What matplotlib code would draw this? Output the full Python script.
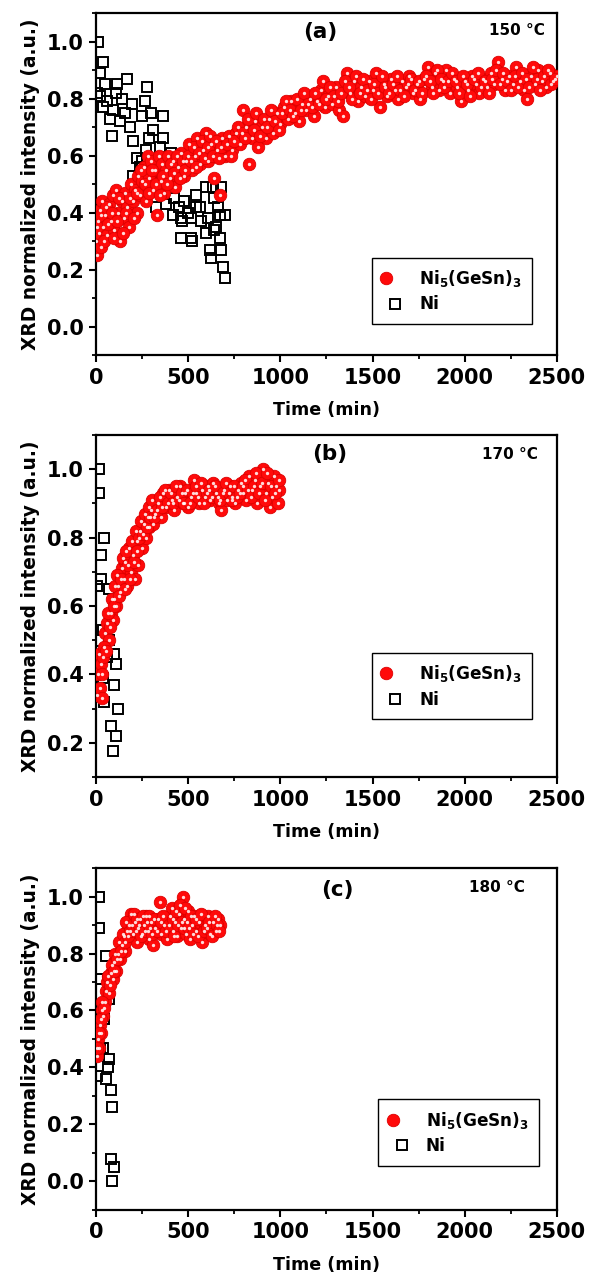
import matplotlib
matplotlib.use("Agg")
import matplotlib.pyplot as plt
from matplotlib.lines import Line2D
from matplotlib.legend_handler import HandlerTuple
from matplotlib.ticker import MultipleLocator

plt.rcParams['font.family'] = ['DejaVu Sans']
plt.rcParams['font.weight'] = 'bold'
plt.rcParams['mathtext.fontset'] = 'custom'
plt.rcParams['mathtext.rm'] = 'DejaVu Sans:bold'
plt.rcParams['mathtext.it'] = 'DejaVu Sans:bold'
plt.rcParams['mathtext.bf'] = 'DejaVu Sans:bold'
plt.rcParams['mathtext.default'] = 'rm'

# ---- panel (a), 150 C ----
a_red_t = [0, 5, 10, 15, 20, 25, 35, 40, 50, 60, 70, 80, 90, 100, 110, 120, 130, 140, 150, 160,
           170, 180, 190, 200, 210, 220, 230, 240, 250, 260, 270, 280, 290, 300, 310, 320, 330, 340, 350, 360,
           370, 380, 390, 400, 415, 430, 445, 460, 475, 490, 505, 520, 535, 550, 565, 580, 595, 610, 625, 640,
           655, 670, 685, 700, 720, 740, 760, 780, 800, 815, 830, 845, 860, 880, 900, 920, 940, 960, 980, 1000,
           1020, 1040, 1060, 1080, 1100, 1120, 1140, 1160, 1180, 1200, 1220, 1240, 1260, 1280, 1300, 1320, 1340, 1360, 1380, 1400,
           1420, 1440, 1460, 1480, 1500, 1520, 1540, 1560, 1580, 1600, 1620, 1640, 1660, 1680, 1700, 1720, 1740, 1760, 1780, 1800,
           1820, 1840, 1860, 1880, 1900, 1920, 1940, 1960, 1980, 2000, 2020, 2040, 2060, 2080, 2100, 2120, 2140, 2160, 2180, 2200,
           2220, 2240, 2260, 2280, 2300, 2320, 2340, 2360, 2380, 2400, 2420, 2440, 2460, 2480, 2500,
           8, 28, 45, 55, 65, 85, 95, 115, 125, 145, 165, 185, 205, 225, 245, 265, 285, 305, 325, 345,
           365, 385, 405, 425, 440, 455, 470, 485, 500, 515, 530, 545, 560, 575, 590, 605, 620, 635, 650, 665,
           680, 710, 730, 750, 770, 790, 810, 825, 855, 870, 890, 910, 930, 950, 970, 990, 1010, 1030, 1050, 1070,
           1090, 1110, 1130, 1150, 1170, 1190, 1210, 1230, 1250, 1270, 1290, 1310, 1330, 1350, 1370, 1390, 1410, 1430, 1450, 1470,
           1490, 1510, 1530, 1550, 1570, 1590, 1610, 1630, 1650, 1670, 1690, 1710, 1730, 1750, 1770, 1790, 1810, 1830, 1850, 1870,
           1890, 1910, 1930, 1950, 1970, 1990, 2010, 2030, 2050, 2070, 2090, 2110, 2130, 2150, 2170, 2190, 2210, 2230, 2250, 2270,
           2290, 2310, 2330, 2350, 2370, 2390, 2410, 2430, 2450, 2470, 2490]
a_red_v = [0.30, 0.25, 0.37, 0.33, 0.41, 0.28, 0.44, 0.35, 0.39, 0.32, 0.43, 0.37, 0.46, 0.34, 0.48, 0.40, 0.30, 0.44, 0.38, 0.47,
           0.42, 0.35, 0.50, 0.44, 0.48, 0.40, 0.53, 0.46, 0.51, 0.56, 0.44, 0.60, 0.52, 0.58, 0.48, 0.55, 0.39, 0.60, 0.51, 0.57,
           0.47, 0.55, 0.60, 0.52, 0.58, 0.49, 0.56, 0.61, 0.53, 0.58, 0.64, 0.55, 0.60, 0.66, 0.57, 0.62, 0.68, 0.58, 0.64, 0.52,
           0.62, 0.46, 0.66, 0.60, 0.67, 0.62, 0.68, 0.64, 0.76, 0.70, 0.57, 0.66, 0.72, 0.63, 0.70, 0.66, 0.73, 0.68, 0.75, 0.71,
           0.77, 0.73, 0.79, 0.75, 0.72, 0.78, 0.76, 0.80, 0.74, 0.79, 0.83, 0.77, 0.81, 0.78, 0.84, 0.76, 0.74, 0.89, 0.82, 0.86,
           0.79, 0.84, 0.81, 0.86, 0.83, 0.89, 0.77, 0.85, 0.81, 0.87, 0.83, 0.80, 0.86, 0.84, 0.88, 0.82, 0.85, 0.80, 0.87, 0.91,
           0.84, 0.89, 0.83, 0.86, 0.90, 0.82, 0.87, 0.84, 0.79, 0.86, 0.83, 0.88, 0.85, 0.82, 0.87, 0.84, 0.89, 0.85, 0.93, 0.87,
           0.83, 0.88, 0.85, 0.91, 0.86, 0.83, 0.80, 0.88, 0.85, 0.90, 0.86, 0.84, 0.89, 0.86, 0.88,
           0.35, 0.39, 0.30, 0.42, 0.36, 0.40, 0.31, 0.37, 0.45, 0.33, 0.40, 0.45, 0.38, 0.47, 0.55, 0.50, 0.47, 0.55, 0.50, 0.46,
           0.53, 0.50, 0.57, 0.54, 0.60, 0.52, 0.58, 0.55, 0.60, 0.58, 0.63, 0.56, 0.61, 0.65, 0.59, 0.63, 0.67, 0.60, 0.65, 0.59,
           0.63, 0.64, 0.60, 0.65, 0.70, 0.68, 0.66, 0.73, 0.69, 0.75, 0.67, 0.73, 0.70, 0.76, 0.72, 0.69, 0.75, 0.79, 0.76, 0.74,
           0.80, 0.76, 0.82, 0.78, 0.77, 0.82, 0.78, 0.86, 0.80, 0.84, 0.81, 0.79, 0.82, 0.86, 0.84, 0.80, 0.88, 0.82, 0.87, 0.83,
           0.80, 0.85, 0.82, 0.88, 0.84, 0.82, 0.85, 0.88, 0.83, 0.81, 0.85, 0.87, 0.83, 0.86, 0.82, 0.88, 0.86, 0.82, 0.90, 0.87,
           0.84, 0.86, 0.89, 0.86, 0.82, 0.88, 0.85, 0.81, 0.87, 0.89, 0.84, 0.86, 0.82, 0.87, 0.90, 0.85, 0.89, 0.86, 0.83, 0.88,
           0.84, 0.89, 0.87, 0.84, 0.91, 0.87, 0.83, 0.88, 0.90, 0.85, 0.87]
a_ni_t = [12, 36, 20, 49, 5, 20, 58, 94, 76, 40, 85, 112, 166, 108, 139, 157, 193, 130, 184, 202,
          220, 238, 274, 265, 247, 301, 285, 310, 270, 364, 364, 346, 328, 328, 382, 405, 418, 422, 418, 450,
          463, 468, 463, 517, 517, 522, 540, 544, 562, 571, 595, 598, 610, 616, 625, 634, 640, 640, 652, 660,
          670, 670, 679, 679, 688, 697, 700, 200, 250, 300, 350, 390, 480, 500]
a_ni_v = [1.00, 0.93, 0.89, 0.85, 0.82, 0.81, 0.79, 0.76, 0.73, 0.77, 0.67, 0.85, 0.87, 0.82, 0.80, 0.75, 0.78, 0.72, 0.70, 0.65,
          0.59, 0.56, 0.84, 0.79, 0.74, 0.75, 0.66, 0.69, 0.62, 0.74, 0.66, 0.63, 0.49, 0.42, 0.43, 0.61, 0.59, 0.45, 0.39, 0.42,
          0.38, 0.37, 0.31, 0.38, 0.31, 0.30, 0.42, 0.46, 0.42, 0.37, 0.49, 0.33, 0.38, 0.27, 0.24, 0.49, 0.45, 0.34, 0.35, 0.42,
          0.39, 0.31, 0.49, 0.27, 0.21, 0.17, 0.39, 0.53, 0.58, 0.55, 0.52, 0.50, 0.44, 0.40]

# ---- panel (b), 170 C ----
b_red_t = [5, 10, 15, 20, 25, 30, 40, 50, 60, 70, 80, 90, 100, 110, 120, 130, 140, 150, 160, 170,
           180, 190, 200, 210, 220, 230, 240, 250, 260, 270, 280, 290, 300, 310, 320, 335, 350, 365, 380, 395,
           410, 425, 440, 455, 470, 485, 500, 515, 530, 545, 560, 575, 590, 605, 620, 635, 650, 665, 680, 695,
           710, 725, 740, 755, 770, 785, 800, 815, 830, 845, 860, 875, 890, 905, 920, 935, 945, 955, 965, 975,
           985, 995,
           35, 45, 55, 65, 75, 85, 95, 105, 115, 125, 135, 145, 155, 165, 175, 185, 195, 205, 215, 225,
           235, 245, 255, 265, 275, 285, 295, 305, 315, 330, 345, 360, 375, 390, 405, 420, 435, 450, 465, 480,
           495, 510, 525, 540, 555, 570, 585, 600, 615, 630, 645, 660, 675, 690, 705, 720, 735, 750, 765, 780,
           795, 810, 825, 840, 855, 870, 885, 900, 915, 930, 950, 970, 990]
b_red_v = [0.34, 0.40, 0.46, 0.36, 0.43, 0.33, 0.45, 0.52, 0.55, 0.50, 0.58, 0.56, 0.62, 0.60, 0.66, 0.64, 0.71, 0.68, 0.73, 0.66,
           0.77, 0.70, 0.75, 0.68, 0.79, 0.72, 0.82, 0.77, 0.84, 0.80, 0.86, 0.83, 0.88, 0.84, 0.87, 0.90, 0.86, 0.93, 0.89, 0.94,
           0.91, 0.88, 0.92, 0.95, 0.90, 0.93, 0.89, 0.92, 0.97, 0.93, 0.90, 0.94, 0.92, 0.95, 0.91, 0.96, 0.93, 0.90, 0.88, 0.94,
           0.91, 0.95, 0.92, 0.90, 0.94, 0.96, 0.93, 0.91, 0.98, 0.94, 0.97, 0.90, 0.95, 1.00, 0.93, 0.96, 0.89, 0.92, 0.98, 0.95,
           0.90, 0.94,
           0.40, 0.48, 0.47, 0.58, 0.54, 0.62, 0.60, 0.66, 0.69, 0.63, 0.68, 0.74, 0.65, 0.76, 0.72, 0.68, 0.79, 0.73, 0.82, 0.76,
           0.80, 0.85, 0.81, 0.87, 0.83, 0.89, 0.86, 0.91, 0.86, 0.88, 0.92, 0.89, 0.94, 0.90, 0.93, 0.90, 0.95, 0.91, 0.93, 0.90,
           0.94, 0.90, 0.93, 0.95, 0.92, 0.96, 0.90, 0.93, 0.94, 0.92, 0.95, 0.92, 0.91, 0.93, 0.96, 0.93, 0.91, 0.95, 0.92, 0.93,
           0.95, 0.97, 0.94, 0.92, 0.95, 0.99, 0.93, 0.96, 0.91, 0.99, 0.95, 0.93, 0.97]
b_ni_t = [18, 18, 45, 27, 27, 72, 36, 5, 72, 99, 108, 40, 99, 45, 117, 81, 108, 90, 15, 60]
b_ni_v = [1.00, 0.93, 0.80, 0.75, 0.68, 0.65, 0.53, 0.66, 0.50, 0.46, 0.43, 0.39, 0.37, 0.32, 0.30, 0.25, 0.22, 0.175, 0.47, 0.45]

# ---- panel (c), 180 C ----
c_red_t = [5, 10, 15, 20, 25, 30, 40, 50, 55, 60, 70, 80, 90, 100, 110, 120, 130, 140, 150, 160,
           170, 180, 190, 200, 210, 220, 230, 240, 250, 260, 270, 280, 290, 300, 310, 320, 335, 345, 355, 370,
           385, 400, 410, 420, 430, 440, 450, 460, 470, 480, 490, 500, 510, 520, 530, 545, 560, 575, 590, 605,
           620, 635, 650, 660, 670,
           8, 18, 28, 35, 45, 65, 75, 85, 95, 105, 115, 125, 135, 145, 155, 165, 175, 185, 195, 205,
           215, 225, 235, 245, 255, 265, 275, 285, 295, 305, 315, 330, 350, 365, 380, 395, 415, 425, 435, 445,
           455, 465, 475, 485, 495, 505, 515, 525, 540, 555, 570, 585, 600, 615, 630, 645, 655, 665]
c_red_v = [0.44, 0.50, 0.47, 0.55, 0.52, 0.60, 0.58, 0.63, 0.67, 0.70, 0.66, 0.73, 0.71, 0.77, 0.74, 0.80, 0.78, 0.83, 0.86, 0.81,
           0.88, 0.90, 0.94, 0.87, 0.91, 0.84, 0.89, 0.92, 0.87, 0.90, 0.93, 0.88, 0.85, 0.91, 0.83, 0.89, 0.92, 0.98, 0.87, 0.90,
           0.85, 0.93, 0.96, 0.88, 0.91, 0.86, 0.94, 0.89, 1.00, 0.92, 0.87, 0.95, 0.85, 0.90, 0.93, 0.88, 0.91, 0.84, 0.90, 0.93,
           0.87, 0.91, 0.88, 0.92, 0.90,
           0.47, 0.52, 0.57, 0.63, 0.61, 0.72, 0.69, 0.76, 0.74, 0.80, 0.78, 0.84, 0.81, 0.87, 0.84, 0.91, 0.86, 0.88, 0.90, 0.94,
           0.88, 0.92, 0.90, 0.86, 0.93, 0.88, 0.91, 0.93, 0.89, 0.87, 0.92, 0.88, 0.91, 0.93, 0.88, 0.90, 0.92, 0.86, 0.95, 0.90,
           0.97, 0.91, 0.89, 0.96, 0.91, 0.89, 0.93, 0.87, 0.92, 0.86, 0.94, 0.88, 0.89, 0.91, 0.86, 0.93, 0.90, 0.88]
c_ni_t = [16, 16, 53, 13, 71, 20, 44, 10, 20, 71, 63, 53, 5, 80, 89, 80, 98, 89, 30, 40]
c_ni_v = [1.00, 0.89, 0.79, 0.71, 0.64, 0.61, 0.57, 0.56, 0.47, 0.43, 0.40, 0.36, 0.37, 0.32, 0.26, 0.08, 0.05, 0.00, 0.61, 0.47]

panels = [
    dict(red_t=a_red_t, red_v=a_red_v, ni_t=a_ni_t, ni_v=a_ni_v, tag="(a)", temp="150 °C",
         ylim=(-0.1, 1.1), yticks=[0.0, 0.2, 0.4, 0.6, 0.8, 1.0], tagpos=(0.486, 0.944), temppos=(0.913, 0.95),
         legpos=(0.965, 0.067)),
    dict(red_t=b_red_t, red_v=b_red_v, ni_t=b_ni_t, ni_v=b_ni_v, tag="(b)", temp="170 °C",
         ylim=(0.1, 1.1), yticks=[0.2, 0.4, 0.6, 0.8, 1.0], tagpos=(0.506, 0.944), temppos=(0.898, 0.944),
         legpos=(0.965, 0.144)),
    dict(red_t=c_red_t, red_v=c_red_v, ni_t=c_ni_t, ni_v=c_ni_v, tag="(c)", temp="180 °C",
         ylim=(-0.1, 1.1), yticks=[0.0, 0.2, 0.4, 0.6, 0.8, 1.0], tagpos=(0.524, 0.936), temppos=(0.87, 0.944),
         legpos=(0.98, 0.105)),
]

fig = plt.figure(figsize=(5.94, 12.85), dpi=100)
bottoms = [0.7237, 0.3953, 0.0584]

red = '#ff0a0a'
for p, b in zip(panels, bottoms):
    ax = fig.add_axes([0.1616, b, 0.776, 0.2661])
    ax.plot(p['ni_t'], p['ni_v'], ls='', marker='s', ms=7.5, mfc='none', mec='black', mew=1.4, zorder=2)
    ax.plot(p['red_t'], p['red_v'], ls='', marker='o', ms=9, mfc=red, mec='#dd0000', mew=0.6, zorder=3)
    ax.plot(p['red_t'], p['red_v'], ls='', marker='o', ms=2.4, mfc='white', mec='none', alpha=0.85, zorder=4)

    ax.set_xlim(0, 2500)
    ax.set_ylim(*p['ylim'])
    ax.set_xticks([0, 500, 1000, 1500, 2000, 2500])
    ax.set_yticks(p['yticks'])
    ax.xaxis.set_minor_locator(MultipleLocator(250))
    ax.yaxis.set_minor_locator(MultipleLocator(0.1))
    ax.tick_params(which='major', direction='out', length=5, width=1.5, labelsize=15, pad=4)
    ax.tick_params(which='minor', direction='out', length=3, width=1.3)
    for s in ax.spines.values():
        s.set_linewidth(1.6)
    ax.set_xlabel("Time (min)", fontsize=12.6, fontweight='bold', labelpad=10)
    ax.set_ylabel("XRD normalized intensity (a.u.)", fontsize=13.4, fontweight='bold', labelpad=5)

    ax.text(*p['tagpos'], p['tag'], transform=ax.transAxes, ha='center', va='center',
            fontsize=15.5, fontweight='bold')
    ax.text(*p['temppos'], p['temp'], transform=ax.transAxes, ha='center', va='center',
            fontsize=11, fontweight='bold')

    h_red = (Line2D([], [], ls='', marker='o', ms=9, mfc=red, mec='#dd0000', mew=0.6),
             Line2D([], [], ls='', marker='o', ms=2.4, mfc='white', mec='none', alpha=0.85))
    h_ni = Line2D([], [], ls='', marker='s', ms=7.5, mfc='none', mec='black', mew=1.4)
    leg = ax.legend([h_red, h_ni], ["Ni$_{5}$(GeSn)$_{3}$", "Ni"],
                    handler_map={tuple: HandlerTuple(ndivide=None)},
                    loc='lower right', bbox_to_anchor=p['legpos'], fontsize=12.2,
                    frameon=True, fancybox=False, edgecolor='black', framealpha=1,
                    borderpad=0.6, handletextpad=0.6, handlelength=1.6, labelspacing=0.4)
    leg.get_frame().set_linewidth(1.0)

plt.savefig("out.png", dpi=100)
